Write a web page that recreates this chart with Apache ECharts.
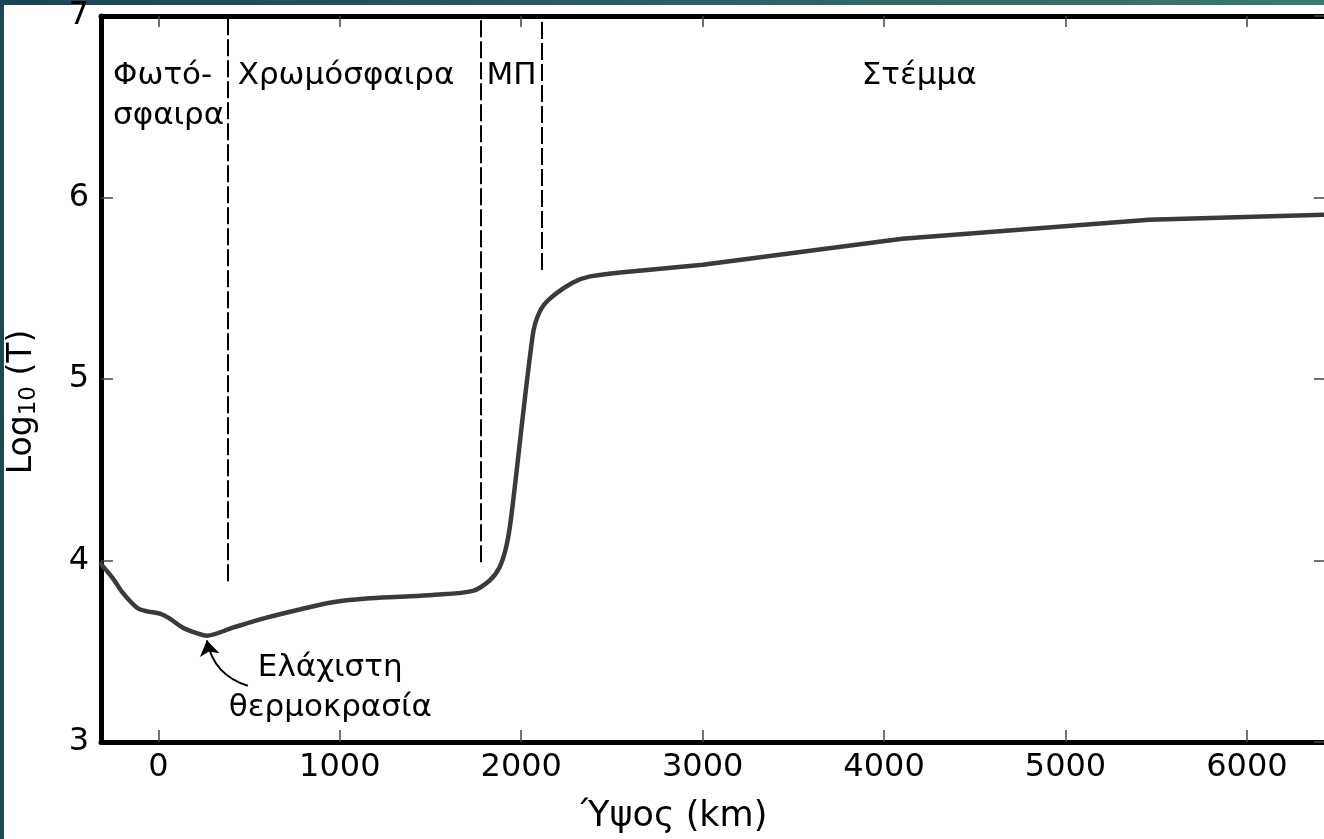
<!DOCTYPE html>
<html>
<head>
<meta charset="utf-8">
<script src="https://cdn.jsdelivr.net/npm/echarts@6/dist/echarts.min.js"></script>
<style>
  html, body { margin: 0; padding: 0; background: #ffffff; }
  #chart { width: 1324px; height: 839px; }
</style>
</head>
<body>
<div id="chart"></div>
<script>
// Height above the photosphere (km) and log10 of temperature (K)
const heights = [-316, -250, -195, -118, -63, 8, 63, 135, 212, 267, 410, 596, 779, 962, 1147, 1329, 1512, 1733, 1826, 1879, 1916, 1944, 2063, 2100, 2155, 2283, 2375, 2650, 3000, 4100, 5460, 6425];
const logT = [3.98, 3.90, 3.82, 3.74, 3.72, 3.707, 3.68, 3.63, 3.60, 3.586, 3.63, 3.685, 3.73, 3.77, 3.79, 3.80, 3.81, 3.833, 3.89, 3.96, 4.07, 4.235, 5.24, 5.367, 5.44, 5.53, 5.564, 5.596, 5.63, 5.773, 5.877, 5.905];
// the corona part (from 2650 km on) is drawn as straight segments
const coronaStart = 27;

// Layer boundaries (height, lower end of the dashed line in log10 T)
const boundaryHeights = [380, 1775, 2112];
const boundaryBottoms = [3.885, 3.99, 5.60];

// Tick values
const xTicks = [0, 1000, 2000, 3000, 4000, 5000, 6000];
const yTicks = [3, 4, 5, 6, 7];

// Layer names and their anchor points (height, log10 T)
const layerNames = ['Φωτό-', 'σφαιρα', 'Χρωμόσφαιρα', 'ΜΠ', 'Στέμμα'];
const layerX = [-250, -250, 437, 1808, 3877];
const layerY = [6.67, 6.45, 6.67, 6.67, 6.67];

// Minimum temperature note
const noteLines = ['Ελάχιστη', 'θερμοκρασία'];
const noteX = [548, 388];
const noteY = [3.41, 3.185];
const arrowFrom = [493, 3.31];
const arrowTo = [267, 3.56];

const FONT = 'DejaVu Sans';
const TICK_FS = 32;
const TEXT_FS = 31;

const chart = echarts.init(document.getElementById('chart'), null, { renderer: 'canvas' });

const X_MIN = -316.5, X_MAX = 6425;
const Y_MIN = yTicks[0], Y_MAX = yTicks[yTicks.length - 1];
// inward tick length, in axis units (about 12 px)
const X_TICK_LEN = 66, Y_TICK_LEN = 0.066;

const curve = heights.map((h, i) => [h, logT[i]]);
const lowerCurve = curve.slice(0, coronaStart + 1);
const coronaCurve = curve.slice(coronaStart);
const boundaries = boundaryHeights.map((h, i) => ({ coords: [[h, boundaryBottoms[i]], [h, Y_MAX]] }));
const layerPts = layerNames.map((t, i) => ({ value: [layerX[i], layerY[i]], name: t }));
const notePts = noteLines.map((t, i) => ({ value: [noteX[i], noteY[i]], name: t }));

// tick marks on the bottom and left spines
const spineTicks = xTicks.filter(v => v > X_MIN && v < X_MAX).map(v => ({ coords: [[v, Y_MIN], [v, Y_MIN + Y_TICK_LEN]] }))
  .concat(yTicks.filter(v => v > Y_MIN && v < Y_MAX).map(v => ({ coords: [[X_MIN, v], [X_MIN + X_TICK_LEN, v]] })));

const textLabel = {
  show: true,
  position: [0, 0],
  align: 'left',
  verticalAlign: 'middle',
  formatter: p => p.name,
  fontFamily: FONT,
  fontSize: TEXT_FS,
  color: '#000',
  opacity: 1,
  textBorderWidth: 0
};

const tickStyle = { color: '#444', width: 1.5 };
const spineStyle = { color: '#000', width: 5 };

chart.setOption({
  animation: false,
  backgroundColor: '#ffffff',
  grid: { left: 101, top: 14, width: 1225, bottom: 97, containLabel: false },
  xAxis: [
    {
      type: 'value', position: 'bottom', min: X_MIN, max: X_MAX,
      axisLine: { show: true, onZero: false, lineStyle: spineStyle },
      axisTick: { show: false },
      axisLabel: { show: true, customValues: xTicks, margin: 10, fontFamily: FONT, fontSize: TICK_FS, color: '#000', formatter: v => String(v) },
      splitLine: { show: false }
    },
    {
      type: 'value', position: 'top', min: X_MIN, max: X_MAX,
      axisLine: { show: true, onZero: false, lineStyle: spineStyle },
      axisTick: { show: true, inside: true, length: 11, customValues: xTicks, lineStyle: tickStyle },
      axisLabel: { show: false },
      splitLine: { show: false }
    }
  ],
  yAxis: [
    {
      type: 'value', position: 'left', min: Y_MIN, max: Y_MAX, interval: 1,
      axisLine: { show: true, onZero: false, lineStyle: spineStyle },
      axisTick: { show: false },
      axisLabel: { show: true, margin: 12, fontFamily: FONT, fontSize: TICK_FS, color: '#000', formatter: v => String(v) },
      splitLine: { show: false }
    },
    {
      type: 'value', position: 'right', min: Y_MIN, max: Y_MAX, interval: 1,
      axisLine: { show: false, onZero: false },
      axisTick: { show: true, inside: true, length: 10, lineStyle: tickStyle },
      axisLabel: { show: false },
      splitLine: { show: false }
    }
  ],
  series: [
    {
      type: 'lines', coordinateSystem: 'cartesian2d', xAxisIndex: 0, yAxisIndex: 0,
      data: spineTicks, silent: true,
      lineStyle: { color: tickStyle.color, width: tickStyle.width, opacity: 1 },
      z: 2
    },
    {
      type: 'lines', coordinateSystem: 'cartesian2d', xAxisIndex: 0, yAxisIndex: 0,
      data: boundaries, silent: true,
      lineStyle: { color: '#000', width: 2, type: [17, 4], opacity: 1 },
      z: 3
    },
    {
      type: 'line', xAxisIndex: 0, yAxisIndex: 0, data: lowerCurve,
      smooth: 0.3, showSymbol: false, symbol: 'none',
      lineStyle: { color: '#3a3a3a', width: 4.5, cap: 'round', join: 'round' },
      z: 4
    },
    {
      type: 'line', xAxisIndex: 0, yAxisIndex: 0, data: coronaCurve,
      smooth: false, showSymbol: false, symbol: 'none',
      lineStyle: { color: '#3a3a3a', width: 4.5, cap: 'round', join: 'round' },
      z: 4
    },
    {
      type: 'lines', coordinateSystem: 'cartesian2d', xAxisIndex: 0, yAxisIndex: 0,
      data: [{ coords: [arrowFrom, arrowTo] }], silent: true,
      symbol: ['none', 'arrow'], symbolSize: [10, 15],
      lineStyle: { color: '#000', width: 2, curveness: 0.3, opacity: 1 },
      z: 5
    },
    {
      type: 'scatter', xAxisIndex: 0, yAxisIndex: 0, data: layerPts,
      symbolSize: 0, silent: true, itemStyle: { opacity: 1 }, label: textLabel, z: 6
    },
    {
      type: 'scatter', xAxisIndex: 0, yAxisIndex: 0, data: notePts,
      symbolSize: 0, silent: true, itemStyle: { opacity: 1 }, label: textLabel, z: 6
    }
  ],
  graphic: [
    {
      type: 'rect', left: 0, top: 0, shape: { width: 1324, height: 5 }, silent: true,
      style: { fill: new echarts.graphic.LinearGradient(0, 0, 1, 0, [
        { offset: 0, color: '#1a4556' }, { offset: 0.5, color: '#275f63' }, { offset: 1, color: '#3a7a6e' }
      ]) }
    },
    {
      type: 'rect', left: 0, top: 0, shape: { width: 4, height: 839 }, silent: true,
      style: { fill: '#1a4858' }
    },
    {
      type: 'text', x: 674, y: 817, silent: true,
      style: { text: 'Ύψος (km)', font: '35px "' + FONT + '"', fill: '#000', align: 'center', verticalAlign: 'middle' }
    },
    {
      type: 'text', x: 22, y: 402, rotation: Math.PI / 2, silent: true,
      style: {
        text: '{a|Log}{s|10}{a| (T)}', align: 'center', verticalAlign: 'middle', fill: '#000',
        rich: {
          a: { fontFamily: FONT, fontSize: 33, fill: '#000' },
          s: { fontFamily: FONT, fontSize: 23, fill: '#000', padding: [15, 0, 0, 0] }
        }
      }
    }
  ]
});
</script>
</body>
</html>
